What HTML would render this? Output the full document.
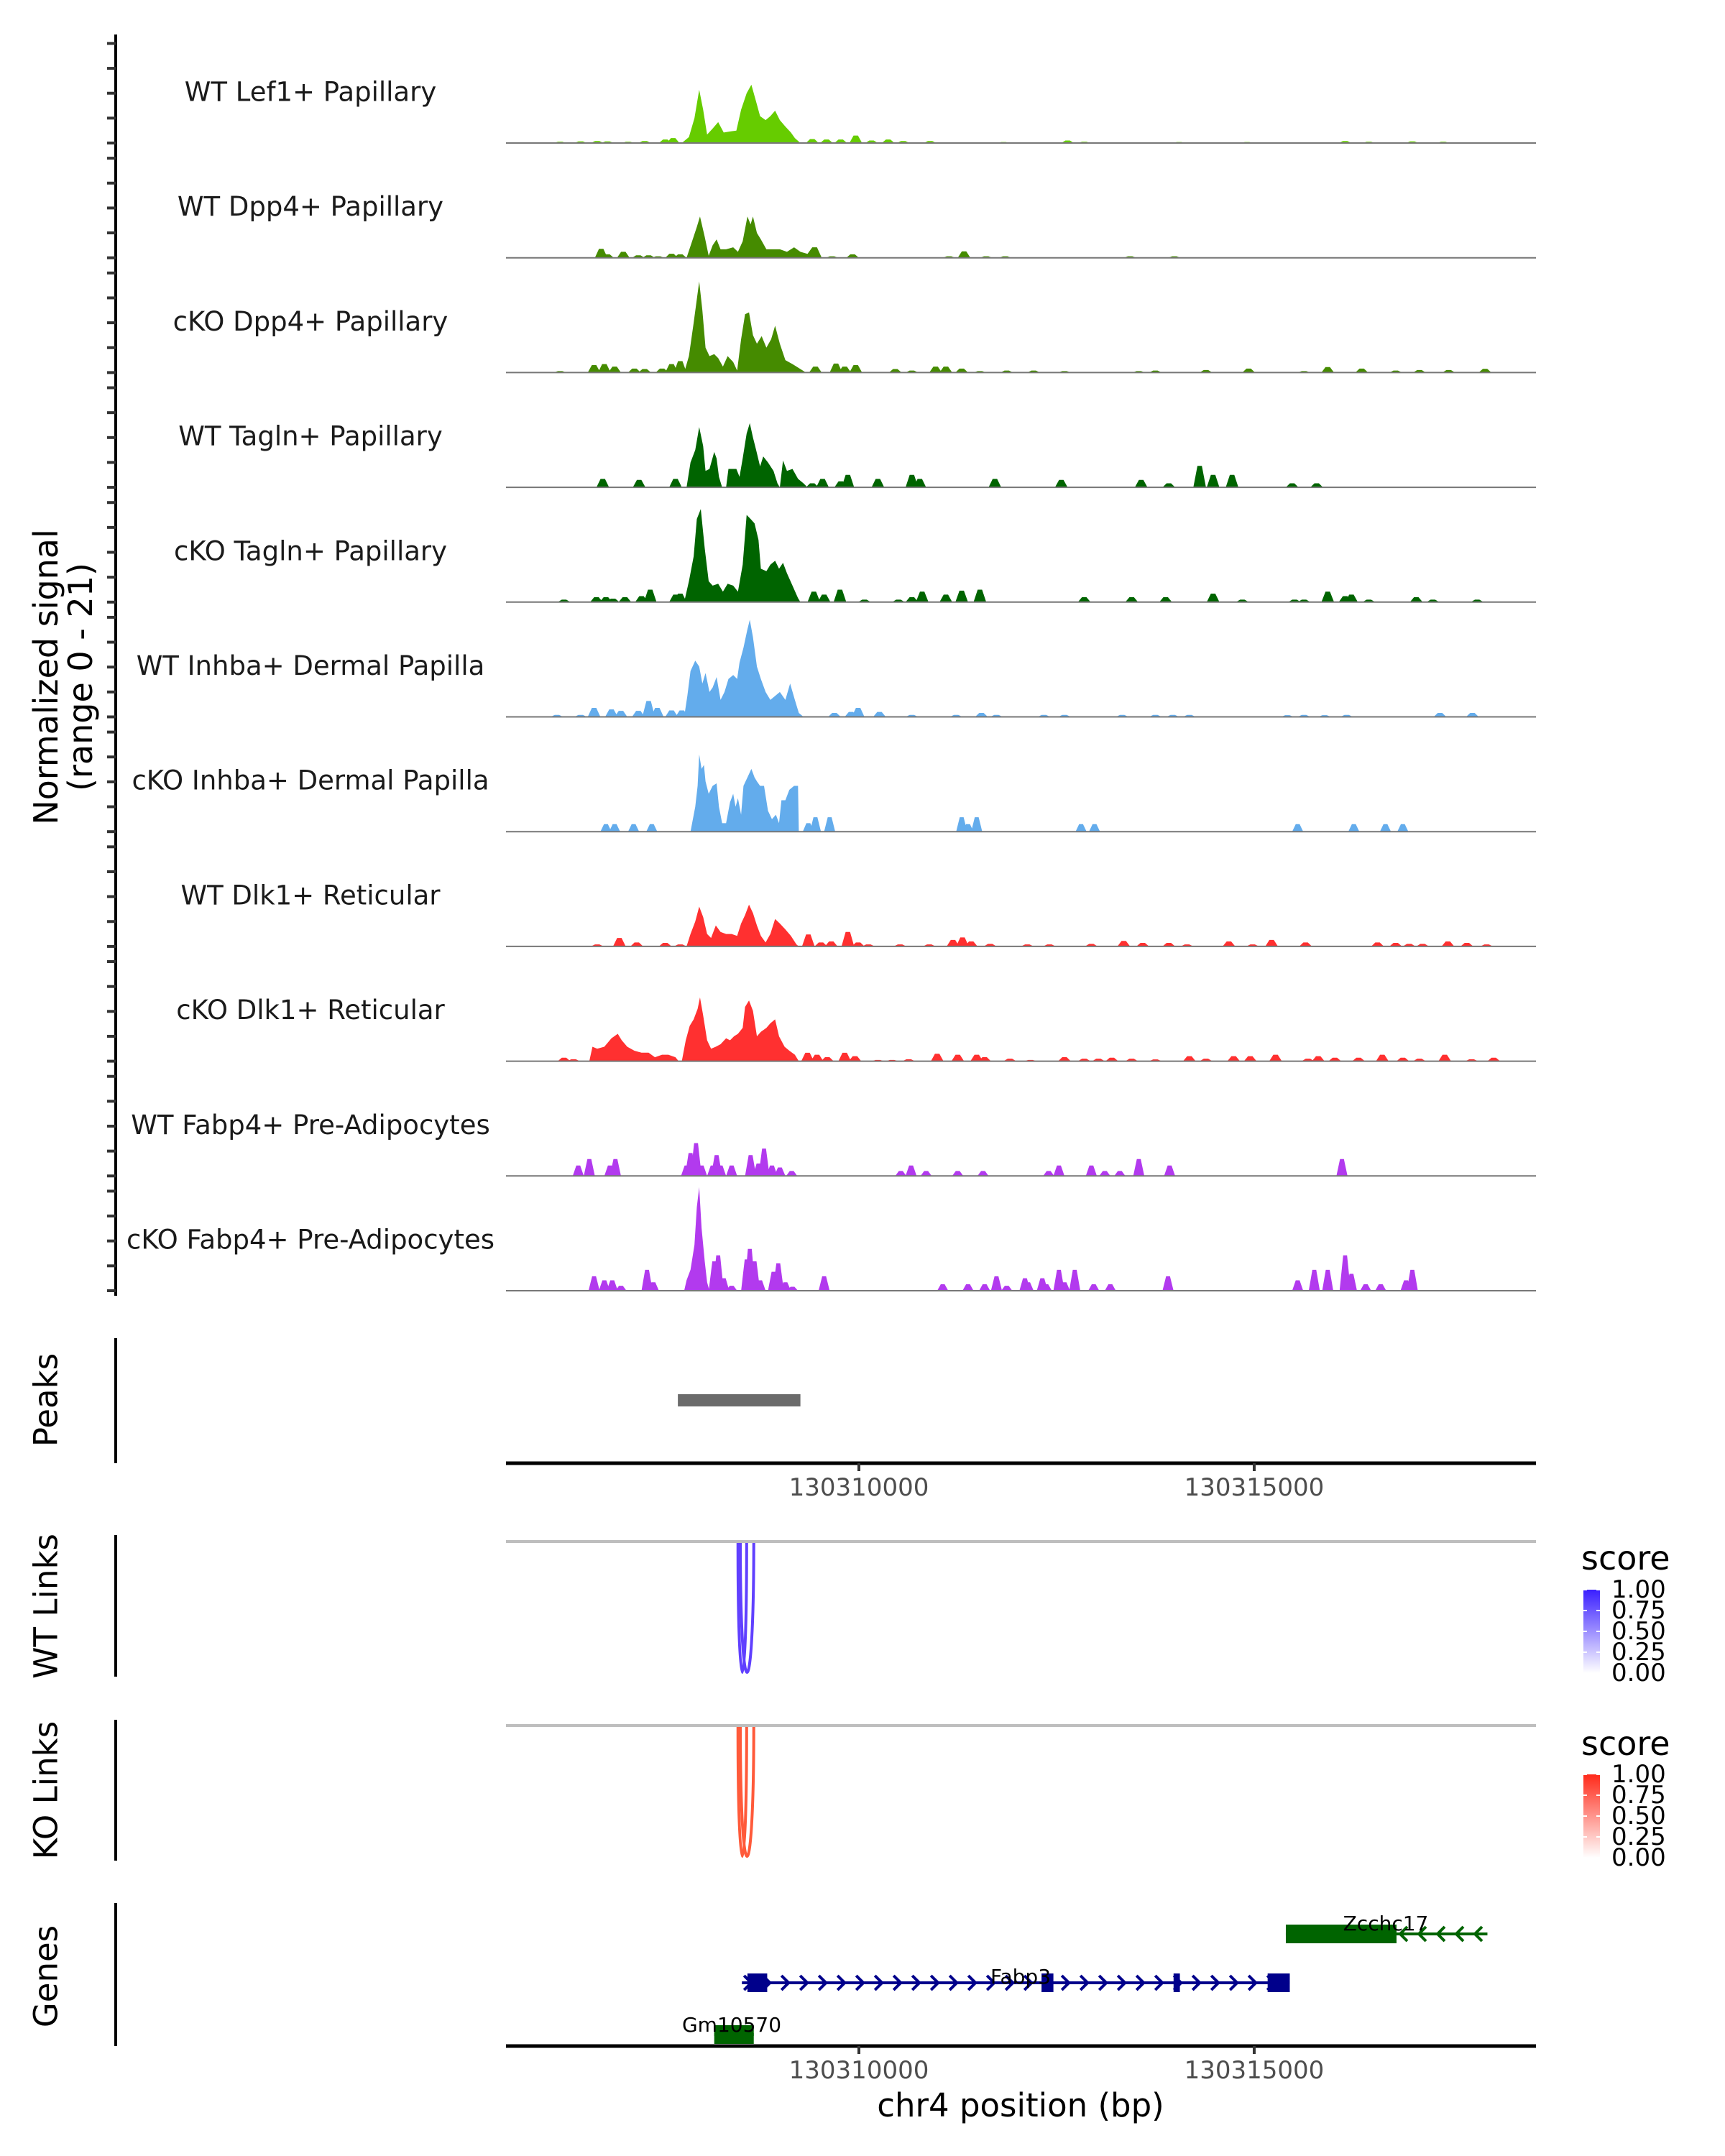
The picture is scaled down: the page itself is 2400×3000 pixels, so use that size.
<!DOCTYPE html>
<html><head><meta charset="utf-8"><style>
html,body{margin:0;padding:0;background:#fff;}
svg{display:block;font-family:"DejaVu Sans","Liberation Sans",sans-serif;}
</style></head><body>
<svg id="chart" xmlns="http://www.w3.org/2000/svg" width="2400" height="3000" viewBox="0 0 2400 3000">
<rect x="0" y="0" width="2400" height="3000" fill="#fff"/>
<g id="tracks"></g>
<line x1="161" y1="48" x2="161" y2="1803" stroke="#000" stroke-width="4"/>
<g id="yticks"></g>
<text transform="translate(64,942) rotate(-90)" text-anchor="middle" dominant-baseline="central" font-size="46" fill="#000">Normalized signal</text>
<text transform="translate(112,942) rotate(-90)" text-anchor="middle" dominant-baseline="central" font-size="46" fill="#000">(range 0 - 21)</text>

<line x1="161" y1="1862" x2="161" y2="2036" stroke="#000" stroke-width="4"/>
<text transform="translate(64,1948) rotate(-90)" text-anchor="middle" dominant-baseline="central" font-size="45">Peaks</text>
<g id="peaks"></g>
<g id="xaxis1"></g>

<line x1="161" y1="2136" x2="161" y2="2333" stroke="#000" stroke-width="4"/>
<text transform="translate(64,2235) rotate(-90)" text-anchor="middle" dominant-baseline="central" font-size="45">WT Links</text>
<line x1="704" y1="2145" x2="2137" y2="2145" stroke="#bebebe" stroke-width="4"/>
<g id="wtlinks"></g>

<line x1="161" y1="2393" x2="161" y2="2589" stroke="#000" stroke-width="4"/>
<text transform="translate(64,2491) rotate(-90)" text-anchor="middle" dominant-baseline="central" font-size="45">KO Links</text>
<line x1="704" y1="2401" x2="2137" y2="2401" stroke="#bebebe" stroke-width="4"/>
<g id="kolinks"></g>

<defs>
<linearGradient id="gwt" x1="0" y1="1" x2="0" y2="0"><stop offset="0" stop-color="#ffffff"/><stop offset="1" stop-color="#3a1fff"/></linearGradient>
<linearGradient id="gko" x1="0" y1="1" x2="0" y2="0"><stop offset="0" stop-color="#ffffff"/><stop offset="1" stop-color="#ff2a1a"/></linearGradient>
</defs>
<g>
<text x="2200" y="2184" font-size="46">score</text>
<rect x="2203" y="2212" width="23" height="116" fill="url(#gwt)"/>
<g id="wtleg"></g>
</g>
<g>
<text x="2200" y="2442" font-size="46">score</text>
<rect x="2203" y="2469" width="23" height="116" fill="url(#gko)"/>
<g id="koleg"></g>
</g>

<line x1="161" y1="2648" x2="161" y2="2847" stroke="#000" stroke-width="4"/>
<text transform="translate(64,2750) rotate(-90)" text-anchor="middle" dominant-baseline="central" font-size="45">Genes</text>
<g id="genes"></g>
<g id="xaxis2"></g>
<text x="1420" y="2945" text-anchor="middle" font-size="45">chr4 position (bp)</text>
</svg>
<script>
// ---- data (positions in kb offset from 130300000, signal in normalized units) ----
const trackNames = ["WT Lef1+ Papillary","WT Dpp4+ Papillary","cKO Dpp4+ Papillary","WT Tagln+ Papillary","cKO Tagln+ Papillary","WT Inhba+ Dermal Papilla","cKO Inhba+ Dermal Papilla","WT Dlk1+ Reticular","cKO Dlk1+ Reticular","WT Fabp4+ Pre-Adipocytes","cKO Fabp4+ Pre-Adipocytes"];
const mainPos1 = [7.76,7.85,7.92,7.98,8.03,8.08,8.15,8.22,8.29,8.36,8.45,8.51,8.58,8.64,8.70,8.75,8.82,8.88,8.94,9.00,9.07,9.14,9.19,9.26];
const mainVal1 = [0,1.2,5,10.7,6.7,1.7,2.9,4.2,2.1,2.3,2.5,6.7,10,11.7,8.3,5.4,4.6,5.4,6.5,4.6,3.3,2.1,1,0];
const bumpPos1 = [6.22,6.48,6.69,6.82,7.08,7.29,7.55,7.65,9.41,9.59,9.77,9.96,10.16,10.37,10.56,10.90,11.83,12.64,12.85,14.05,14.91,16.15,16.45,17.00,17.39];
const bumpVal1 = [.25,.33,.4,.33,.25,.4,.7,1,.8,.7,.7,1.5,.5,.7,.4,.4,.2,.5,.25,.2,.2,.4,.25,.33,.25];
const mainPos2 = [7.82,7.89,7.95,7.99,8.05,8.10,8.15,8.20,8.25,8.32,8.41,8.47,8.53,8.59,8.63,8.66,8.71,8.76,8.83,8.90,9.00,9.09,9.18,9.26,9.35,9.41,9.47,9.53];
const mainVal2 = [0,3.3,6.2,8.3,4.2,.4,2.5,3.7,1.7,1.7,2.1,1.2,3.3,8.3,6.7,8.3,5,3.7,1.7,1.7,1.7,1.2,2.1,1.2,.8,2.1,2.1,0];
const bumpPos2 = [6.74,6.82,7.02,7.21,7.34,7.46,7.63,7.74,9.66,9.92,11.14,11.33,11.61,11.85,13.43,13.99];
const bumpVal2 = [1.8,.7,1.2,.5,.5,.3,.8,.7,.3,.7,.3,1.3,.3,.3,.3,.3];
const mainPos3 = [7.79,7.85,7.91,7.98,8.02,8.06,8.11,8.17,8.22,8.28,8.34,8.41,8.46,8.51,8.56,8.61,8.66,8.71,8.77,8.83,8.89,8.94,9.00,9.07,9.16,9.26,9.33];
const mainVal3 = [0,3.3,10,18.3,12.5,5,3.3,3.7,2.9,1.2,3.3,2.1,.4,6.7,11.7,12.1,7.5,5.8,7.3,5,6.7,9.4,5.8,2.5,1.7,.7,0];
const bumpPos3 = [6.22,6.65,6.78,6.91,7.16,7.29,7.51,7.63,7.74,9.45,9.71,9.82,9.96,10.46,10.67,10.97,11.10,11.30,11.53,11.87,12.21,12.60,13.54,13.75,14.39,14.93,15.63,15.93,16.36,16.79,17.09,17.46,17.92];
const bumpVal3 = [.3,1.5,1.7,1.2,.8,.7,.8,1.7,2.3,1.2,1.8,1.2,1.5,.7,.4,1.2,1.2,.8,.3,.4,.4,.3,.3,.4,.5,.8,.3,1.1,.8,.4,.5,.5,.75];
const mainPos4 = [7.82,7.87,7.93,7.98,8.03,8.06,8.11,8.17,8.20,8.23,8.27,8.32,8.35,8.45,8.49,8.53,8.58,8.62,8.66,8.70,8.75,8.79,8.85,8.92,8.97,9.00,9.04,9.09,9.16,9.23,9.30,9.35];
const mainVal4 = [0,5,7.5,12.1,8.3,3.3,3.7,7.1,5.8,2.1,0,0,3.7,3.7,2.1,5.8,10.8,12.9,10,7.5,4.2,6.2,5,3.3,.8,0,5.4,3.3,3.7,1.7,.8,0];
const bumpPos4 = [6.76,7.22,7.68,9.41,9.54,9.77,9.86,10.24,10.67,10.77,11.72,12.56,13.57,13.92,14.31,14.48,14.72,15.48,15.79];
const bumpVal4 = [1.7,1.5,1.7,.8,1.7,1.2,2.5,1.7,2.5,1.7,1.7,1.5,1.5,.8,4.3,2.5,2.5,.8,.8];
const mainPos5 = [7.79,7.85,7.91,7.95,8.00,8.05,8.10,8.15,8.22,8.28,8.34,8.41,8.47,8.53,8.58,8.63,8.68,8.73,8.76,8.83,8.88,8.94,8.99,9.04,9.09,9.16,9.23,9.26];
const mainVal5 = [0,4.2,9.2,16.7,18.7,10.8,4.2,3.3,3.7,2.1,3.7,3.3,2.1,7.5,17.5,16.7,15.8,12.5,6.7,6.2,7.5,8.3,6.7,7.9,5.8,3.3,.8,0];
const bumpPos5 = [6.27,6.68,6.80,6.89,7.04,7.25,7.36,7.68,7.74,9.43,9.56,9.76,10.07,10.50,10.67,10.80,11.10,11.30,11.53,12.85,13.45,13.88,14.48,14.85,15.51,15.63,15.93,16.15,16.23,16.45,17.05,17.26,17.82];
const bumpVal5 = [.5,1,1,.7,1,1.2,2.5,1.5,1.7,2.1,1.5,2.5,.5,.5,1,2.1,1.5,2.3,2.5,1,1,1,1.7,.5,.5,.5,2.1,1.2,1.5,.5,1,.5,.5];
const mainPos6 = [7.79,7.83,7.87,7.93,7.98,8.02,8.06,8.11,8.15,8.20,8.25,8.30,8.35,8.41,8.46,8.49,8.54,8.59,8.62,8.66,8.71,8.76,8.82,8.88,8.94,9.00,9.07,9.13,9.19,9.24,9.30];
const mainVal6 = [0,4.2,9.2,11.3,10.1,6.7,8.8,5,5.9,8,3.4,5,7.6,8.4,7.6,10.9,13.9,17.6,19.5,16,10.1,7.6,5,3.4,4.2,5,3.4,6.7,3.4,.8,0];
const bumpPos6 = [6.18,6.48,6.65,6.87,6.99,7.21,7.34,7.45,7.63,7.76,9.69,9.90,9.99,10.26,10.67,11.23,11.55,11.74,12.34,12.60,13.33,13.75,13.97,14.18,15.42,15.63,15.89,16.17,17.35,17.76];
const bumpVal6 = [.4,.4,1.8,1.5,1.2,1.2,3.2,1.8,1.3,1.3,.8,1,1.8,1,.4,.4,.8,.4,.4,.4,.4,.4,.4,.4,.35,.4,.35,.4,.8,.8];
const mainPos7 = [7.87,7.93,7.96,7.98,8.01,8.04,8.06,8.10,8.15,8.20,8.23,8.27,8.32,8.37,8.41,8.44,8.47,8.51,8.54,8.59,8.64,8.68,8.71,8.75,8.80,8.85,8.90,8.95,8.99,9.02,9.07,9.12,9.18,9.23,9.24];
const mainVal7 = [0,5,9.2,15.5,12.6,13.4,10.1,7.6,9.2,9.7,5,1.7,1.7,5.9,7.6,5,6.7,3.4,9.2,10.9,12.6,10.9,10.1,9.2,9.2,4.2,2.5,3.4,1.7,6.3,6.3,8.4,9.2,9.2,0];
const bumpPos7 = [6.80,6.91,7.15,7.38,9.36,9.45,9.63,11.30,11.38,11.49,12.81,12.98,15.55,16.26,16.66,16.88];
const bumpVal7 = [1.5,1.5,1.5,1.5,1.7,2.9,2.9,2.9,1.5,2.9,1.5,1.5,1.5,1.5,1.5,1.5];
const mainPos8 = [7.82,7.87,7.93,7.98,8.03,8.08,8.13,8.19,8.25,8.32,8.39,8.46,8.51,8.56,8.61,8.66,8.71,8.76,8.82,8.88,8.94,9.00,9.07,9.14,9.21,9.24];
const mainVal8 = [0,2.5,5,8,5.9,2.5,1.7,4.2,2.9,2.5,2.5,2.1,4.6,6.3,8.4,6.7,4.2,2.1,.8,2.5,5.5,4.6,3.4,2.1,.4,0];
const bumpPos8 = [6.69,6.97,7.19,7.55,7.74,9.36,9.52,9.65,9.86,9.99,10.12,10.52,10.89,11.19,11.31,11.42,11.66,12.13,12.41,12.94,13.35,13.59,13.92,14.15,14.68,14.98,15.22,15.65,16.56,16.79,16.96,17.13,17.45,17.69,17.94];
const bumpVal8 = [.4,1.7,.8,.7,.4,2.4,.8,1,2.9,.8,.4,.4,.4,1.3,1.8,1,.5,.4,.4,.5,1.1,.7,.7,.4,1,.4,1.3,.8,.8,.7,.5,.5,1,.7,.4];
const mainPos9 = [6.59,6.63,6.69,6.78,6.87,6.95,7.00,7.07,7.16,7.25,7.34,7.42,7.51,7.59,7.68,7.72,7.76,7.81,7.86,7.91,7.96,7.99,8.03,8.08,8.13,8.19,8.25,8.32,8.37,8.42,8.47,8.53,8.56,8.61,8.66,8.71,8.76,8.83,8.88,8.94,8.99,9.06,9.12,9.19,9.24];
const mainVal9 = [0,2.9,2.5,2.9,4.6,5.5,4.2,2.9,2.1,1.7,1.7,.8,1.3,1.3,.8,0,0,4.2,7.1,8.4,10.5,12.8,9.2,4.2,2.5,2.9,3.4,4.6,4.2,5,5.5,6.7,10.9,12.2,10.1,5,5.9,6.7,7.6,8.4,5,2.9,2.1,1.3,0];
const bumpPos9 = [6.27,6.39,9.35,9.47,9.60,9.82,9.95,10.24,10.42,10.63,10.99,11.25,11.49,11.59,11.91,12.17,12.60,12.85,13.03,13.20,13.45,13.75,14.18,14.39,14.74,14.95,15.27,15.68,15.81,16.02,16.32,16.62,16.88,17.09,17.41,17.75,18.03];
const bumpVal9 = [.7,.4,1.7,1.3,.8,1.7,1,.25,.25,.4,1.5,1.3,1.3,.8,.5,.25,.8,.5,.5,.7,.5,.35,1,.5,1,1,1.3,.5,1,.7,.7,1.3,.7,.5,1.3,.4,.7];
const mainPos10 = [];
const mainVal10 = [];
const bumpPos10 = [6.45,6.59,6.85,6.92,7.82,7.87,7.94,8.01,8.15,8.20,8.25,8.39,8.63,8.73,8.80,8.90,9.00,9.15,10.53,10.66,10.85,11.25,11.57,12.40,12.53,12.94,13.11,13.30,13.54,13.93,16.11];
const bumpVal10 = [2.1,3.4,2.1,3.4,2.1,4.6,6.6,2.1,2.1,4.2,2.1,2.1,4.2,2.5,5.5,2.1,1.7,1,1,2.1,1,1,1,1,2.1,2.1,1,1,3.4,2.1,3.4];
const mainPos11 = [7.79,7.82,7.87,7.92,7.95,7.98,8.01,8.05,8.08,8.11];
const mainVal11 = [0,2.1,4.2,9.2,16.8,20.8,12.6,5.9,1.7,0];
const bumpPos11 = [6.65,6.78,6.88,6.99,7.32,7.40,8.17,8.22,8.29,8.39,8.58,8.62,8.68,8.75,8.92,8.98,9.07,9.16,9.56,11.06,11.38,11.59,11.74,11.87,12.10,12.14,12.32,12.37,12.53,12.60,12.73,12.97,13.18,13.91,15.55,15.76,15.93,16.15,16.23,16.41,16.60,16.92,17.00];
const bumpVal11 = [2.9,2.1,2.1,1,4.2,1.7,5.9,7.1,2.5,1,6.3,8.4,5.9,2.1,3.8,5.5,1.7,.8,2.9,1.3,1.3,1.3,2.9,1,2.5,1.7,2.5,1.3,4.2,1.7,4.2,1.3,1.3,2.9,2.1,4.2,4.2,7.1,3.4,1.3,1.3,2.1,4.2];
const peakStart = [7.71];
const peakEnd = [9.26];
const wtLinkStart = [8.47, 8.50];
const wtLinkEnd = [8.58, 8.67];
const koLinkStart = [8.47, 8.50];
const koLinkEnd = [8.58, 8.67];
const xTickKb = [10, 15];
const xTickLabels = ["130310000","130315000"];
const legendLabels = ["1.00","0.75","0.50","0.25","0.00"];
const legendValues = [1, 0.75, 0.5, 0.25, 0];
const geneNames = ["Zcchc17","Fabp3","Gm10570"];
const geneStart = [15.40, 8.52, 8.17];
const geneEnd = [17.95, 15.45, 8.67];
const geneStrand = [-1, 1, -1];
const exonStart = [[15.40],[8.59,12.31,13.98,15.17],[8.17]];
const exonEnd = [[16.80],[8.84,12.46,14.06,15.45],[8.67]];

// ---- layout ----
const NS = "http://www.w3.org/2000/svg";
const KB0 = 5.536, KB1 = 18.564, PX0 = 704, PX1 = 2137;
const colors = ["#66cc00","#458b00","#458b00","#006400","#006400","#63acec","#63acec","#ff3030","#ff3030","#b23aee","#b23aee"];
const mains = [[mainPos1,mainVal1],[mainPos2,mainVal2],[mainPos3,mainVal3],[mainPos4,mainVal4],[mainPos5,mainVal5],[mainPos6,mainVal6],[mainPos7,mainVal7],[mainPos8,mainVal8],[mainPos9,mainVal9],[mainPos10,mainVal10],[mainPos11,mainVal11]];
const bumps = [[bumpPos1,bumpVal1],[bumpPos2,bumpVal2],[bumpPos3,bumpVal3],[bumpPos4,bumpVal4],[bumpPos5,bumpVal5],[bumpPos6,bumpVal6],[bumpPos7,bumpVal7],[bumpPos8,bumpVal8],[bumpPos9,bumpVal9],[bumpPos10,bumpVal10],[bumpPos11,bumpVal11]];
function xS(kb){ return PX0 + (kb - KB0) / (KB1 - KB0) * (PX1 - PX0); }
function baseY(i){ return 199 + i * 159.7; }
function yS(v, i){ return baseY(i) - v / 21 * 145.5; }
function mk(tag, attrs, parent){ const e = document.createElementNS(NS, tag); for (const k in attrs) e.setAttribute(k, attrs[k]); parent.appendChild(e); return e; }

const tg = document.getElementById("tracks");
const yt = document.getElementById("yticks");
for (let i = 0; i < trackNames.length; i++) {
  const g = mk("g", {}, tg);
  
  
  const b = baseY(i);
  const [mp, mv] = mains[i];
  if (mp.length) {
    let d = "M" + xS(mp[0]).toFixed(1) + "," + b;
    for (let j = 0; j < mp.length; j++) d += " L" + xS(mp[j]).toFixed(1) + "," + yS(mv[j], i).toFixed(1);
    d += " L" + xS(mp[mp.length - 1]).toFixed(1) + "," + b + " Z";
    const p = mk("path", {d: d, fill: colors[i]}, g);
    
    
  }
  const [bp, bv] = bumps[i];
  const hw = (i === 9 || i === 10 || i === 6) ? 0.07 : 0.08;
  for (let j = 0; j < bp.length; j++) {
    const x0 = xS(bp[j] - hw), x1 = xS(bp[j] - hw * 0.35), x2 = xS(bp[j] + hw * 0.35), x3 = xS(bp[j] + hw);
    const y = yS(bv[j], i);
    const p = mk("path", {d: `M${x0},${b} L${x1},${y} L${x2},${y} L${x3},${b} Z`, fill: colors[i]}, g);
    
    
  }
  const bl = mk("line", {x1: PX0, x2: PX1, y1: b, y2: b, stroke: "#777", "stroke-width": 2}, g);
  
  
  const t = mk("text", {x: 432, y: b - 71, "text-anchor": "middle", "dominant-baseline": "central", "font-size": 37, fill: "#1a1a1a"}, g);
  t.textContent = trackNames[i];
  
  
  for (let k = 0; k <= 4; k++) {
    const y = yS(k * 5, i);
    const tk = mk("line", {x1: 149, x2: 161, y1: y, y2: y, stroke: "#333", "stroke-width": 4}, yt);
    
    
  }
}

// peaks
const pg = document.getElementById("peaks");
for (let i = 0; i < peakStart.length; i++) {
  const r = mk("rect", {x: xS(peakStart[i]), y: 1940, width: xS(peakEnd[i]) - xS(peakStart[i]), height: 17, fill: "#6b6b6b"}, pg);
  
  
}

// x axes
function xAxis(id, y) {
  const g = document.getElementById(id);
  const l = mk("line", {x1: PX0, x2: PX1, y1: y, y2: y, stroke: "#000", "stroke-width": 5}, g);
  
  
  for (let i = 0; i < xTickKb.length; i++) {
    const x = xS(xTickKb[i]);
    const tk = mk("line", {x1: x, x2: x, y1: y, y2: y + 11, stroke: "#333", "stroke-width": 4}, g);
    
    
    const t = mk("text", {x: x, y: y + 34, "text-anchor": "middle", "dominant-baseline": "central", "font-size": 34, fill: "#4d4d4d"}, g);
    t.textContent = xTickLabels[i];
    
    
  }
}
xAxis("xaxis1", 2036);
xAxis("xaxis2", 2847);

// links
function links(id, s, e, y0, depth, color) {
  const g = document.getElementById(id);
  for (let i = 0; i < s.length; i++) {
    const x1 = xS(s[i]), x2 = xS(e[i]), c = y0 + depth * 4 / 3;
    const p = mk("path", {d: `M${x1},${y0} C${x1},${c} ${x2},${c} ${x2},${y0}`, fill: "none", stroke: color, "stroke-width": 4}, g);
    
    
  }
}
links("wtlinks", wtLinkStart, wtLinkEnd, 2147, 180, "#6040ff");
links("kolinks", koLinkStart, koLinkEnd, 2403, 180, "#ff5a3a");

// legends
function legend(id, top) {
  const g = document.getElementById(id);
  for (let i = 0; i < legendLabels.length; i++) {
    const y = top + (1 - legendValues[i]) * 116;
    const tk = mk("line", {x1: 2203, x2: 2208, y1: y, y2: y, stroke: "#fff", "stroke-width": 2}, g);
    
    
    const tk2 = mk("line", {x1: 2221, x2: 2226, y1: y, y2: y, stroke: "#fff", "stroke-width": 2}, g);
    
    
    const t = mk("text", {x: 2242, y: y, "dominant-baseline": "central", "font-size": 34, fill: "#000"}, g);
    t.textContent = legendLabels[i];
    
    
  }
}
legend("wtleg", 2212);
legend("koleg", 2469);

// genes
const gg = document.getElementById("genes");
const geneY = [2691, 2759, 2831];
const geneColor = ["#006400", "#00008b", "#006400"];
const labelX = [1928, 1420, 1018];
const labelY = [2686, 2760, 2827];
for (let i = 0; i < geneNames.length; i++) {
  const g = mk("g", {}, gg);
  
  
  const y = geneY[i], c = geneColor[i];
  const x0 = xS(geneStart[i]), x1 = xS(geneEnd[i]);
  const l = mk("line", {x1: x0, x2: x1, y1: y, y2: y, stroke: c, "stroke-width": 4}, g);
  
  
  for (let x = x0 + 8; x < x1 - 8; x += 26) {
    const dir = geneStrand[i];
    const a = mk("path", {d: `M${x - 5 * dir},${y - 10} L${x + 5 * dir},${y} L${x - 5 * dir},${y + 10}`, fill: "none", stroke: c, "stroke-width": 4}, g);
    
    
  }
  for (let j = 0; j < exonStart[i].length; j++) {
    const ex = xS(exonStart[i][j]), ew = xS(exonEnd[i][j]) - ex;
    const r = mk("rect", {x: ex, y: y - 13, width: Math.max(ew, 6), height: 26, fill: c}, g);
    
    
  }
  const t = mk("text", {x: labelX[i], y: labelY[i], "text-anchor": "middle", "font-size": 28, fill: "#000"}, g);
  t.textContent = geneNames[i];
  
  
}
</script>
</body></html>
